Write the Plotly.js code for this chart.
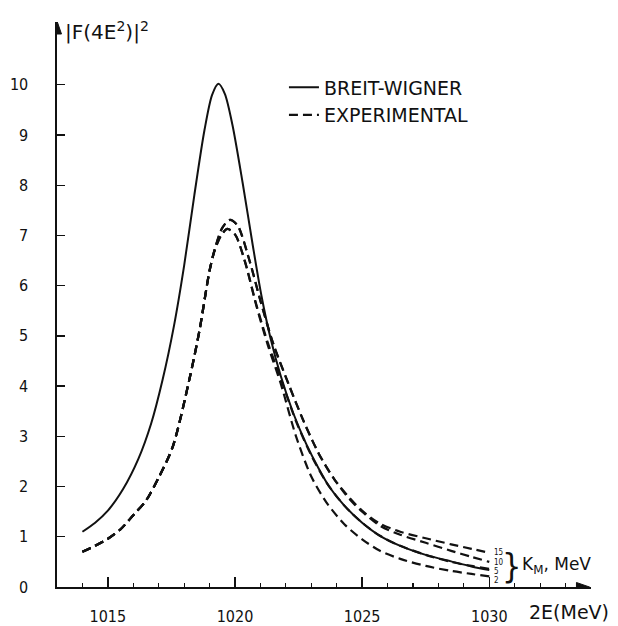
<!DOCTYPE html>
<html>
<head>
<meta charset="utf-8">
<script src="https://cdn.plot.ly/plotly-3.0.1.min.js"></script>
<style>html,body{margin:0;padding:0;background:#fff;}#chart{width:618px;height:626px;}</style>
</head>
<body>
<div id="chart"></div>
<script>
// ---- Data ----
// Breit-Wigner curve: energy 2E (MeV) and |F(4E^2)|^2
const bwEnergy = [1014.0,1014.5,1015.0,1015.6,1016.2,1016.7,1017.15,1017.6,1018.0,1018.4,1018.8,1019.1,1019.35,1019.6,1019.9,1020.3,1020.7,1021.04,1021.4,1021.8,1022.3,1022.8,1023.3,1023.7,1024.3,1025.0,1025.7,1026.5,1027.5,1028.5,1029.3,1030.0];
const bwValue  = [1.10,1.28,1.52,1.95,2.55,3.25,4.12,5.20,6.40,7.80,9.10,9.80,10.02,9.82,9.20,8.05,6.80,5.80,4.95,4.20,3.45,2.85,2.35,2.00,1.62,1.28,1.02,0.82,0.64,0.51,0.41,0.34];

// Experimental curves for K_M = 2, 5, 10, 15 MeV
const expK = ["2","5","10","15"];
const expEnergy2  = [1014.0,1014.5,1015.0,1015.5,1016.0,1016.5,1017.0,1017.55,1018.2,1018.6,1019.0,1019.2,1019.45,1019.7,1020.0,1020.38,1020.84,1021.3,1021.8,1022.4,1023.0,1023.6,1024.3,1025.0,1025.7,1026.5,1027.5,1028.5,1029.3,1030.0];
const expValue2   = [0.70,0.82,0.96,1.15,1.43,1.72,2.18,2.79,4.12,5.10,6.30,6.70,7.00,7.13,7.02,6.50,5.60,4.80,4.05,3.00,2.20,1.68,1.25,0.95,0.72,0.56,0.42,0.32,0.26,0.21];
const expEnergy5  = [1014.0,1014.5,1015.0,1015.5,1016.0,1016.5,1017.0,1017.55,1018.2,1018.6,1019.0,1019.2,1019.45,1019.7,1020.0,1020.38,1020.84,1021.3,1021.8,1022.4,1023.0,1023.6,1024.3,1025.0,1025.7,1026.5,1027.5,1028.5,1029.3,1030.0];
const expValue5   = [0.70,0.82,0.96,1.15,1.43,1.72,2.18,2.79,4.12,5.10,6.30,6.70,7.00,7.13,7.02,6.50,5.62,4.85,4.15,3.30,2.62,2.08,1.62,1.28,1.02,0.82,0.64,0.50,0.42,0.36];
const expEnergy10 = [1014.0,1014.5,1015.0,1015.5,1016.0,1016.5,1017.0,1017.55,1018.2,1018.6,1019.0,1019.2,1019.5,1019.8,1020.1,1020.57,1021.0,1021.5,1022.1,1022.7,1023.3,1023.9,1024.5,1025.0,1025.7,1026.5,1027.5,1028.5,1029.3,1030.0];
const expValue10  = [0.70,0.82,0.96,1.15,1.43,1.72,2.18,2.79,4.12,5.10,6.30,6.72,7.15,7.31,7.20,6.50,5.70,4.85,4.05,3.30,2.65,2.15,1.75,1.50,1.22,1.04,0.88,0.72,0.60,0.50];
const expEnergy15 = [1014.0,1014.5,1015.0,1015.5,1016.0,1016.5,1017.0,1017.55,1018.2,1018.6,1019.0,1019.2,1019.5,1019.8,1020.1,1020.57,1021.0,1021.5,1022.1,1022.7,1023.3,1023.9,1024.5,1025.0,1025.7,1026.5,1027.5,1028.5,1029.3,1030.0];
const expValue15  = [0.70,0.82,0.96,1.15,1.43,1.72,2.18,2.79,4.12,5.10,6.30,6.72,7.15,7.31,7.20,6.50,5.70,4.85,4.05,3.30,2.65,2.15,1.78,1.52,1.26,1.10,0.97,0.85,0.76,0.68];

// Tick labels
const xTickVals = [1015,1020,1025,1030];
const xTickText = ["1015","1020","1025","1030"];
const yTickVals = [0,1,2,3,4,5,6,7,8,9,10];
const yTickText = ["0","1","2","3","4","5","6","7","8","9","10"];

// Text
const legendBW = "BREIT-WIGNER";
const legendExp = "EXPERIMENTAL";
const yTitle = "|F(4E<sup>2</sup>)|<sup>2</sup>";
const xTitle = "2E(MeV)";
const kLabel = "K<sub>M</sub>, MeV";
// ----------------------------------------------

const INK = "#111";
const tickFont = {family: "DejaVu Sans Condensed, Liberation Sans Narrow, DejaVu Sans, sans-serif", size: 16, color: INK};
const dashStyle = "9px,5px";

const expSets = [
  {k: expK[0], x: expEnergy2,  y: expValue2},
  {k: expK[1], x: expEnergy5,  y: expValue5},
  {k: expK[2], x: expEnergy10, y: expValue10},
  {k: expK[3], x: expEnergy15, y: expValue15}
];

const traces = [{
  x: bwEnergy, y: bwValue, mode: "lines", name: legendBW,
  line: {color: INK, width: 2, shape: "spline", smoothing: 0.8},
  legendgroup: "bw", showlegend: true, hoverinfo: "skip"
}];
expSets.forEach((s, i) => {
  traces.push({
    x: s.x, y: s.y, mode: "lines", name: legendExp,
    line: {color: INK, width: 2.2, dash: dashStyle, shape: "spline", smoothing: 0.8},
    legendgroup: "exp", showlegend: i === 0, hoverinfo: "skip"
  });
});

const smallFont = {family: "DejaVu Sans Condensed, DejaVu Sans, sans-serif", size: 8, color: INK};
const annotations = [
  {xref: "paper", yref: "paper", x: 0.011, y: 0.984, xanchor: "left", yanchor: "middle",
   text: yTitle, showarrow: false, font: {family: "DejaVu Sans, sans-serif", size: 20, color: INK}},
  {xref: "paper", yref: "paper", x: 0.881, y: -0.045, xanchor: "left", yanchor: "middle",
   text: xTitle, showarrow: false, font: {family: "DejaVu Sans, sans-serif", size: 19, color: INK}},
  // brace + K_M label
  {xref: "x", yref: "y", x: 1030.88, y: 0.42, xanchor: "center", yanchor: "middle",
   text: "}", showarrow: false, font: {family: "DejaVu Sans Condensed, DejaVu Sans, sans-serif", size: 34, color: INK}},
  {xref: "x", yref: "y", x: 1031.2, y: 0.42, xanchor: "left", yanchor: "middle",
   text: kLabel, showarrow: false, font: {family: "DejaVu Sans, sans-serif", size: 17, color: INK}}
];
// labels at curve ends
const labelOffsets = [-0.09, -0.06, -0.02, 0.0];
expSets.forEach((s, i) => {
  annotations.push({xref: "x", yref: "y", x: s.x[s.x.length-1] + 0.12, y: s.y[s.y.length-1] + labelOffsets[i],
    xanchor: "left", yanchor: "middle", text: s.k, showarrow: false, font: smallFont});
});

// arrowheads at the axis ends (pixel-sized triangles anchored to the axis ends)
const shapes = [
  {type: "path", xref: "x", yref: "y", xsizemode: "pixel", ysizemode: "pixel",
   xanchor: 1013, yanchor: 11.25, path: "M0,1 L-4.5,-12 L4.5,-12 Z",
   fillcolor: INK, line: {color: INK, width: 1}},
  {type: "path", xref: "x", yref: "y", xsizemode: "pixel", ysizemode: "pixel",
   xanchor: 1033.9, yanchor: 0, path: "M1,0 L-12,4.5 L-12,-4.5 Z",
   fillcolor: INK, line: {color: INK, width: 1}}
];

const layout = {
  width: 618, height: 626,
  margin: {l: 57, r: 27, t: 22, b: 39},
  paper_bgcolor: "#fff", plot_bgcolor: "#fff",
  showlegend: true,
  legend: {x: 0.425, y: 0.918, xanchor: "left", yanchor: "top",
           font: {family: "DejaVu Sans, sans-serif", size: 19, color: INK},
           bgcolor: "rgba(0,0,0,0)", tracegroupgap: 0, traceorder: "grouped"},
  xaxis: {range: [1013, 1034], showgrid: false, zeroline: false,
          showline: true, linecolor: INK, linewidth: 1.6,
          ticks: "inside", ticklen: 10, tickwidth: 1.4, tickcolor: INK,
          tickvals: xTickVals, ticktext: xTickText, tickfont: tickFont,
          ticklabelstandoff: 14,
          minor: {dtick: 1, tick0: 1013, ticks: "inside", ticklen: 4, tickwidth: 1.2, tickcolor: INK, showgrid: false}},
  yaxis: {range: [0, 11.25], showgrid: false, zeroline: false,
          showline: true, linecolor: INK, linewidth: 1.6,
          ticks: "inside", ticklen: 8, tickwidth: 1.4, tickcolor: INK,
          tickvals: yTickVals, ticktext: yTickText, tickfont: tickFont,
          ticklabelstandoff: 24},
  shapes: shapes,
  annotations: annotations
};

Plotly.newPlot("chart", traces, layout, {displayModeBar: false, staticPlot: true});
</script>
</body>
</html>
